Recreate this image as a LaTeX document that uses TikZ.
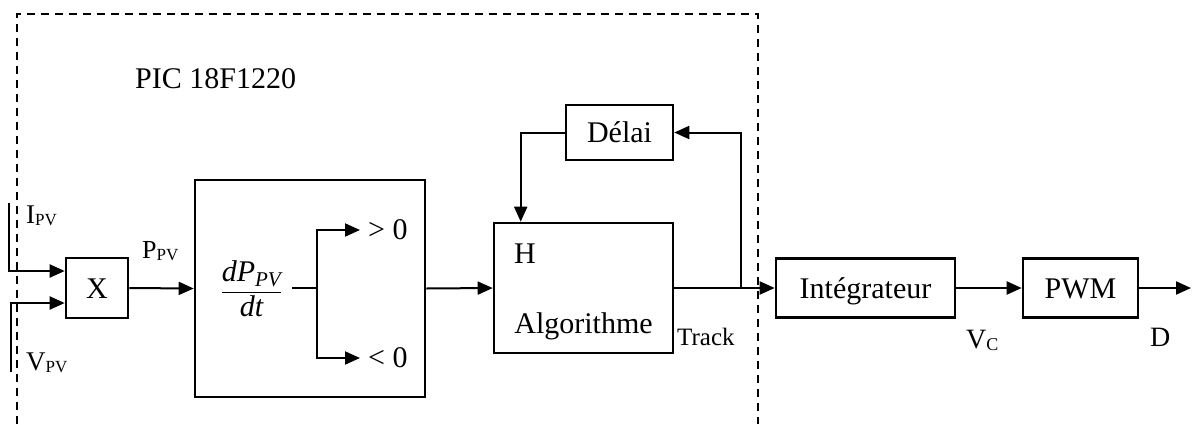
\documentclass[tikz,border=0pt]{standalone}
\usepackage{amsmath}
\usepackage{fontspec}
\setmainfont{Liberation Serif}
\usetikzlibrary{arrows.meta}
\newcommand{\fs}[1]{\fontsize{#1}{#1}\selectfont}
\newcommand{\sbs}[2]{\raisebox{-2pt}{\fs{#1}#2}}
\begin{document}
\begin{tikzpicture}[x=1pt,y=-1pt,
  box/.style={draw, line width=2.6pt, inner sep=0pt, font=\fs{30}, text height=20pt, text depth=0pt},
  conn/.style={line width=2pt},
  arr/.style={conn, -{Triangle[length=15pt,width=13pt]}},
  lab/.style={inner sep=0pt, anchor=base west},
  frontier/.style={line width=2pt, dash pattern=on 8pt off 6pt}]
\path[use as bounding box] (0,0) rectangle (1192,424);
% dashed frontier of the PIC
\coordinate (fbl) at (17,424);
\coordinate (ftl) at (17,14);
\coordinate (ftr) at (758,14);
\coordinate (fbr) at (758,424);
\draw[frontier] (fbl) -- (ftl) -- (ftr) -- (fbr);
\node[lab, font=\fs{30}] (pic) at (135,88) {PIC 18F1220};
% boxes
\node[box, minimum width=62pt, minimum height=60pt] (mx) at (97,288) {X};
\node[box, minimum width=230pt, minimum height=217pt] (der) at (310,288.5) {};
\node[box, minimum width=179pt, minimum height=130pt] (h) at (583.5,288) {};
\node[box, minimum width=107pt, minimum height=55pt] (del) at (619.5,132.5) {Délai};
\node[box, minimum width=179pt, minimum height=59pt] (int) at (865.5,288) {Intégrateur};
\node[box, minimum width=115pt, minimum height=59pt] (pwm) at (1080.5,288) {PWM};
% texts in H
\node[lab, font=\fs{30}] (hl) at (514,263) {H};
\node[inner sep=0pt, anchor=base, font=\fs{30}] (alg) at (583.5,333) {Algorithme};
% labels
\node[lab, font=\fs{25}] (track) at (677,345) {Track};
\node[lab, font=\fs{27}] (ipv) at (26,223) {I\sbs{17}{PV}};
\node[lab, font=\fs{26}] (ppv) at (142,258) {P\sbs{17}{PV}};
\node[lab, font=\fs{27}] (vpv) at (26,370) {V\sbs{17}{PV}};
\node[lab, font=\fs{28}] (vc) at (966,348) {V\sbs{18}{C}};
\node[lab, font=\fs{28}] (dl) at (1150,346) {D};
% derivative block content
\node[inner sep=0pt, font=\fs{30}] (frac) at (251.5,289) {$\displaystyle\frac{\textit{dP}_{\textit{PV}}}{\textit{dt}}$};
\coordinate (fo) at (292,288);
\coordinate (br) at (317,288);
\node[anchor=west, inner xsep=8pt, inner ysep=0pt, font=\fs{30}] (gt) at (360,230) {> 0};
\node[anchor=west, inner xsep=8pt, inner ysep=0pt, font=\fs{30}] (lt) at (360,358) {< 0};
\draw[conn] (fo) -- (br);
\draw[arr] (br) |- (gt.west);
\draw[arr] (br) |- (lt.west);
% inputs
\coordinate (itop) at (9,203);
\coordinate (vbot) at (11,372);
\draw[arr] (itop) |- ([yshift=17pt]mx.west);
\draw[arr] (vbot) |- ([yshift=-15pt]mx.west);
% main chain
\draw[arr] (mx.east) -- (der.west);
\draw[arr] (der.east) -- (h.west);
\draw[arr] (h.east) -- (int.west);
\coordinate (tap) at (741,288);
\draw[arr] (tap) |- (del.east);
\draw[arr] (del.west) -| ([xshift=28pt]h.north west);
\draw[arr] (int.east) -- (pwm.west);
\coordinate (dout) at (1191,288);
\draw[arr] (pwm.east) -- (dout);
\end{tikzpicture}
\end{document}
